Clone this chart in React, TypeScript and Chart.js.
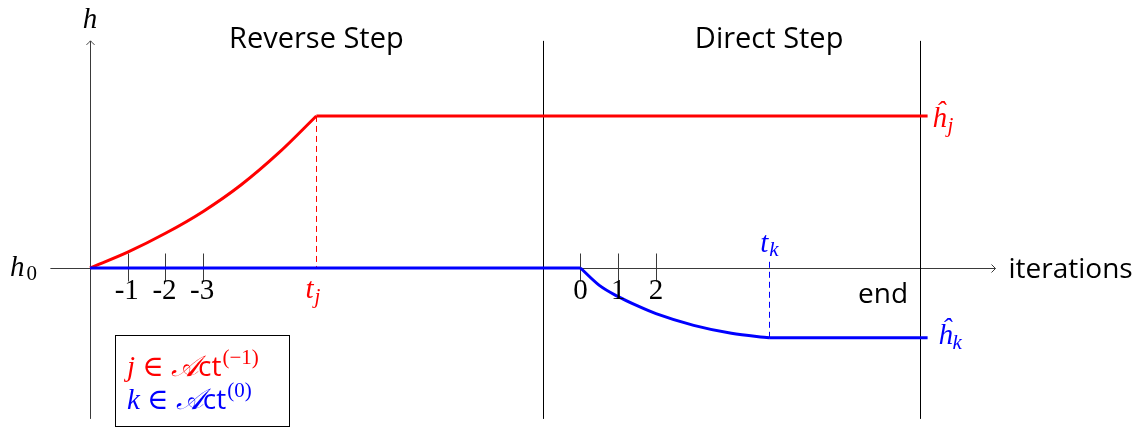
import { useEffect, useRef } from "react";
import { Chart, registerables } from "chart.js";

Chart.register(...registerables);

// ---- data (x in iteration units, y in h units; h0 = 0) ----
const redCurveX = [0, 1, 2, 3, 4, 5, 6];
const redCurveH = [0, 0.42, 0.92, 1.5, 2.2, 3.05, 4.03];
const redFlatX = [6, 22.2];
const redFlatH = [4.03, 4.03];
const blueFlatX = [0, 13];
const blueFlatH = [0, 0];
const blueCurveX = [13, 13.5, 14, 14.5, 15, 16, 17, 18];
const blueCurveH = [0, -0.46, -0.76, -1.0, -1.21, -1.52, -1.73, -1.85];
const blueEndX = [18, 22.2];
const blueEndH = [-1.85, -1.85];

const reverseTickX = [1, 2, 3];
const reverseTickLabels = ["-1", "-2", "-3"];
const directTickX = [13, 14, 15];
const directTickLabels = ["0", "1", "2"];
const phaseBoundX = [12, 22];
const phaseCenterX = [6, 18];
const phaseNames = ["Reverse Step", "Direct Step"];
const tJ = 6;
const tK = 18;
const hJ = 4.03;
const hK = -1.85;
const xAxisRange = [-1.05, 24];
const yAxisRange = [-4, 6.02];

const RED = "#ff0000";
const BLUE = "#0000ff";
const MATH = '"Liberation Serif", "DejaVu Serif", serif';
const SANS = '"Open Sans", Lato, sans-serif';

const pts = (xs: number[], ys: number[]) => xs.map((x, i) => ({ x, y: ys[i] }));

function text(ctx: CanvasRenderingContext2D, s: string, x: number, y: number, font: string, color: string, align: CanvasTextAlign = "left") {
  ctx.font = font;
  ctx.fillStyle = color;
  ctx.textAlign = align;
  ctx.textBaseline = "alphabetic";
  ctx.fillText(s, x, y);
  return ctx.measureText(s).width;
}

const decorPlugin = {
  id: "decor",
  beforeDatasetsDraw(chart: any) {
    const ctx: CanvasRenderingContext2D = chart.ctx;
    const X = (v: number) => chart.scales.x.getPixelForValue(v);
    const Y = (v: number) => chart.scales.y.getPixelForValue(v);
    ctx.save();
    const y0 = Math.round(Y(0)) + 0.5;
    const x0 = Math.round(X(0)) + 0.5;
    // axes
    ctx.strokeStyle = "#3a3a3a";
    ctx.lineWidth = 1;
    ctx.beginPath();
    ctx.moveTo(X(xAxisRange[0]), y0);
    ctx.lineTo(X(xAxisRange[1]), y0);
    ctx.moveTo(x0, Y(yAxisRange[0]));
    ctx.lineTo(x0, Y(yAxisRange[1]));
    ctx.stroke();
    // arrow heads
    const ax = X(xAxisRange[1]);
    ctx.beginPath();
    ctx.moveTo(ax - 4, y0 - 4);
    ctx.quadraticCurveTo(ax - 1, y0 - 1, ax, y0);
    ctx.quadraticCurveTo(ax - 1, y0 + 1, ax - 4, y0 + 4);
    const ay = Y(yAxisRange[1]);
    ctx.moveTo(x0 - 4, ay + 4);
    ctx.quadraticCurveTo(x0 - 1, ay + 1, x0, ay);
    ctx.quadraticCurveTo(x0 + 1, ay + 1, x0 + 4, ay + 4);
    ctx.stroke();
    // phase boundaries
    ctx.strokeStyle = "#000";
    ctx.beginPath();
    phaseBoundX.forEach((b) => {
      const bx = Math.round(X(b)) + 0.5;
      ctx.moveTo(bx, Y(yAxisRange[1]));
      ctx.lineTo(bx, Y(yAxisRange[0]));
    });
    ctx.stroke();
    // ticks
    ctx.strokeStyle = "#3a3a3a";
    ctx.beginPath();
    [...reverseTickX, ...directTickX].forEach((t) => {
      const tx = Math.round(X(t)) + 0.5;
      ctx.moveTo(tx, y0 - 15);
      ctx.lineTo(tx, y0 + 13);
    });
    ctx.stroke();
    // dashed guides
    ctx.setLineDash([6, 4]);
    ctx.strokeStyle = RED;
    ctx.beginPath();
    const jx = Math.round(X(tJ)) + 0.5;
    ctx.moveTo(jx, Y(hJ));
    ctx.lineTo(jx, y0);
    ctx.stroke();
    ctx.strokeStyle = BLUE;
    ctx.beginPath();
    const kx = Math.round(X(tK)) + 0.5;
    ctx.moveTo(kx, Y(hK));
    ctx.lineTo(kx, y0 - 9);
    ctx.stroke();
    ctx.setLineDash([]);
    ctx.restore();
  },
  afterDatasetsDraw(chart: any) {
    const ctx: CanvasRenderingContext2D = chart.ctx;
    const X = (v: number) => chart.scales.x.getPixelForValue(v);
    const Y = (v: number) => chart.scales.y.getPixelForValue(v);
    ctx.save();
    const y0 = Y(0);
    const x0 = X(0);
    const mi = (s: number) => `italic ${s}px ${MATH}`;
    const mr = (s: number) => `${s}px ${MATH}`;
    // axis labels
    text(ctx, "h", x0, Y(yAxisRange[1]) - 13, mi(29), "#000", "center");
    let w = text(ctx, "h", 10, y0 + 8, mi(29), "#000");
    text(ctx, "0", 10 + w + 2, y0 + 12, mr(21), "#000");
    text(ctx, "iterations", X(xAxisRange[1]) + 13, y0 + 10, `28px ${SANS}`, "#000");
    text(ctx, "end", X(phaseBoundX[1]) - 12, y0 + 35, `28px ${SANS}`, "#000", "right");
    // phase names
    phaseNames.forEach((n, i) => text(ctx, n, X(phaseCenterX[i]), 48, `29px ${SANS}`, "#000", "center"));
    // tick labels
    reverseTickX.forEach((t, i) => text(ctx, reverseTickLabels[i], X(t) - 1, y0 + 31, mr(29), "#000", "center"));
    directTickX.forEach((t, i) => text(ctx, directTickLabels[i], X(t), y0 + 31, mr(29), "#000", "center"));
    // t_j
    w = text(ctx, "t", X(tJ) - 11, y0 + 30, mi(29), RED);
    text(ctx, "j", X(tJ) - 11 + w + 1, y0 + 35, mi(21), RED);
    // t_k
    w = text(ctx, "t", X(tK) - 9, y0 - 16, mi(29), BLUE);
    text(ctx, "k", X(tK) - 9 + w + 1, y0 - 12, mi(21), BLUE);
    // hat h_j, hat h_k
    const ex = X(phaseBoundX[1]);
    w = text(ctx, "\u0125", ex + 12, Y(hJ) + 11, mi(29), RED);
    text(ctx, "j", ex + 12 + w + 1, Y(hJ) + 16, mi(21), RED);
    w = text(ctx, "\u0125", ex + 18, Y(hK) + 6, mi(29), BLUE);
    text(ctx, "k", ex + 18 + w, Y(hK) + 11, mi(21), BLUE);
    // legend box
    ctx.strokeStyle = "#000";
    ctx.lineWidth = 1;
    ctx.strokeRect(115.5, 335.5, 174, 91);
    const rows: [string, string, string, number][] = [
      ["j", "(\u22121)", RED, 376],
      ["k", "(0)", BLUE, 409],
    ];
    rows.forEach(([v, sup, col, base]) => {
      let cx = 127;
      cx += text(ctx, v, cx, base, mi(29), col);
      cx += text(ctx, " \u2208 ", cx, base, mr(29), col);
      cx += text(ctx, "\u{1D49C}", cx, base, mi(29), col);
      cx += text(ctx, "ct", cx, base, `28px ${SANS}`, col);
      text(ctx, sup, cx + 1, base - 12, mr(21), col);
    });
    ctx.restore();
  },
};

export default function App() {
  const ref = useRef<HTMLCanvasElement>(null);
  useEffect(() => {
    if (!ref.current) return;
    const line = (data: { x: number; y: number }[], color: string, curved: boolean) => ({
      data,
      borderColor: color,
      borderWidth: 3,
      pointRadius: 0,
      fill: false,
      cubicInterpolationMode: curved ? ("monotone" as const) : ("default" as const),
      tension: 0,
      borderCapStyle: "butt" as const,
      borderJoinStyle: "round" as const,
    });
    const chart = new Chart(ref.current, {
      type: "line",
      data: {
        datasets: [
          line(pts(blueFlatX, blueFlatH), BLUE, false),
          line(pts(blueCurveX, blueCurveH), BLUE, true),
          line(pts(blueEndX, blueEndH), BLUE, false),
          line(pts(redCurveX, redCurveH), RED, true),
          line(pts(redFlatX, redFlatH), RED, false),
        ],
      },
      options: {
        animation: false,
        responsive: false,
        layout: { padding: 0 },
        plugins: { legend: { display: false }, tooltip: { enabled: false } },
        scales: {
          x: { type: "linear", display: false, min: -2.3854, max: 27.856 },
          y: { type: "linear", display: false, min: -4.2407, max: 7.1031 },
        },
      },
      plugins: [decorPlugin],
    });
    return () => chart.destroy();
  }, []);
  return (
    <div style={{ position: "absolute", left: 0, top: 0, width: 1141, height: 428, background: "#fff" }}>
      <canvas ref={ref} width={1141} height={428} />
    </div>
  );
}
